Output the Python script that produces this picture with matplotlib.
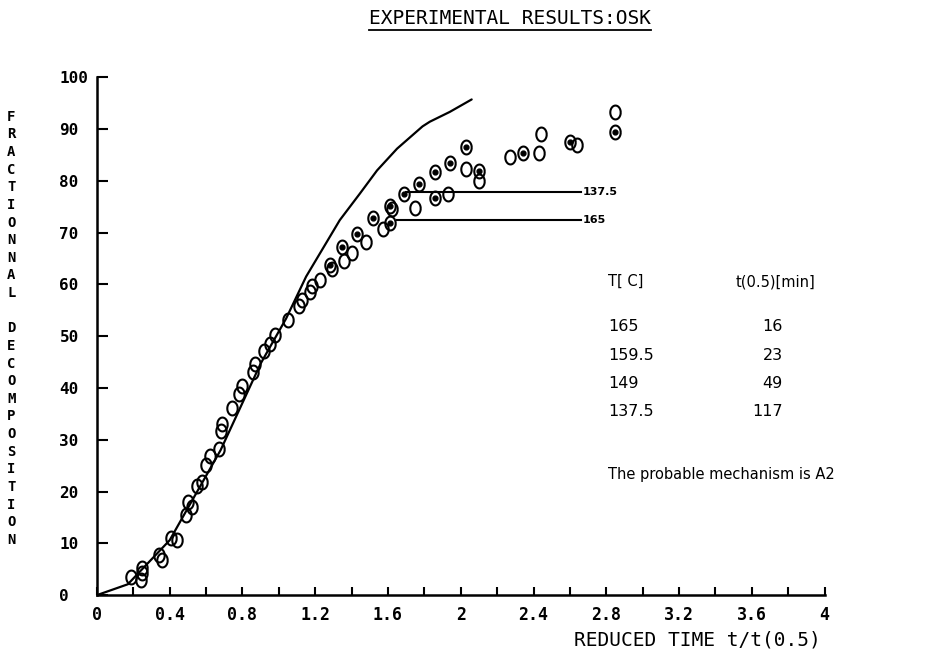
import numpy as np
import matplotlib
matplotlib.use("Agg")
import matplotlib.pyplot as plt
from matplotlib.path import Path
from matplotlib.lines import Line2D

# model curve (A2 mechanism)
curve_x = [0.0, 0.17, 0.40, 0.68, 0.90, 1.04, 1.15, 1.335, 1.445, 1.54, 1.65, 1.79, 1.83, 1.94, 2.06]
curve_y = [0.0, 2.1, 10.6, 28.0, 44.7, 53.4, 61.5, 72.4, 77.5, 82.0, 86.2, 90.5, 91.4, 93.3, 95.7]

# open "0" symbols
open_x = [0.19, 0.24, 0.25, 0.25, 0.34, 0.36, 0.41, 0.44, 0.49, 0.50, 0.52, 0.55, 0.58, 0.60,
          0.62, 0.67, 0.68, 0.69, 0.74, 0.78, 0.80, 0.86, 0.87, 0.92, 0.95, 0.98, 1.05, 1.11,
          1.13, 1.17, 1.18, 1.225, 1.295, 1.36, 1.40, 1.48, 1.57, 1.62, 1.75, 1.93, 2.03, 2.10,
          2.27, 2.43, 2.44, 2.64, 2.85]
open_y = [3.5, 3.0, 5.2, 4.2, 7.7, 6.7, 11.0, 10.6, 15.4, 18.0, 17.0, 21.0, 21.9, 25.1,
          26.8, 28.3, 31.6, 33.0, 36.2, 38.9, 40.4, 43.1, 44.6, 47.1, 48.5, 50.2, 53.2, 55.9,
          57.0, 58.6, 59.6, 60.9, 62.9, 64.5, 66.0, 68.1, 70.6, 74.5, 74.7, 77.5, 82.2, 80.0,
          84.6, 85.3, 89.1, 86.9, 93.2]

# "8" symbols (circle with inner dot)
dot_x = [1.28, 1.35, 1.43, 1.52, 1.61, 1.61, 1.69, 1.77, 1.86, 1.86, 1.94, 2.03, 2.10, 2.34, 2.60, 2.85]
dot_y = [63.7, 67.2, 69.8, 72.8, 75.2, 71.9, 77.4, 79.3, 81.7, 76.6, 83.5, 86.5, 81.9, 85.3, 87.5, 89.4]

# plateau lines
plateau_labels = ["137.5", "165"]
plateau_y = [77.8, 72.4]
plateau_x0 = [1.70, 1.65]
plateau_x1 = [2.66, 2.66]

# table
temps = ["165", "159.5", "149", "137.5"]
half_times = ["16", "23", "49", "117"]

x_ticks = [0, 0.4, 0.8, 1.2, 1.6, 2, 2.4, 2.8, 3.2, 3.6, 4]
x_tick_labels = ["0", "0.4", "0.8", "1.2", "1.6", "2", "2.4", "2.8", "3.2", "3.6", "4"]
y_ticks = [0, 10, 20, 30, 40, 50, 60, 70, 80, 90, 100]

mono = "DejaVu Sans Mono"

fig = plt.figure(figsize=(9.5, 6.54), dpi=100)
ax = fig.add_axes([0.102, 0.090, 0.766, 0.792])
ax.set_xlim(0, 4)
ax.set_ylim(0, 100)

ax.plot(curve_x, curve_y, color="black", lw=1.6, solid_capstyle="round")

t = np.linspace(0, 2 * np.pi, 41)
ell = Path(np.column_stack([0.75 * np.cos(t), np.sin(t)]))
ax.plot(open_x, open_y, ls="none", marker=ell, ms=10, mfc="none", mec="black", mew=1.5)
ax.plot(dot_x, dot_y, ls="none", marker=ell, ms=10, mfc="none", mec="black", mew=1.5)
ax.plot(dot_x, dot_y, ls="none", marker="o", ms=3.5, color="black")

for lab, y, x0, x1 in zip(plateau_labels, plateau_y, plateau_x0, plateau_x1):
    ax.plot([x0, x1], [y, y], color="black", lw=1.5)
    ax.text(x1 + 0.01, y, lab, fontsize=8, fontweight="bold", va="center", ha="left")

# table of temperatures / half times
ax.text(2.81, 60.5, "T[ C]", fontsize=10.5, va="center", ha="left")
ax.text(3.51, 60.5, "t(0.5)[min]", fontsize=10.5, va="center", ha="left")
for i, (tc, th) in enumerate(zip(temps, half_times)):
    yy = 51.8 - i * 5.45
    ax.text(2.81, yy, tc, fontsize=11.5, va="center", ha="left")
    ax.text(3.77, yy, th, fontsize=11.5, va="center", ha="right")
ax.text(2.81, 23.2, "The probable mechanism is A2", fontsize=10.5, va="center", ha="left")

for s in ["top", "right"]:
    ax.spines[s].set_visible(False)
for s in ["left", "bottom"]:
    ax.spines[s].set_linewidth(1.8)

ax.set_xticks(x_ticks)
ax.set_xticklabels(x_tick_labels, fontfamily=mono, fontweight="bold", fontsize=12)
ax.set_xticks(np.arange(0, 4.01, 0.2), minor=True)
ax.tick_params(axis="x", which="both", direction="in", length=6, width=1.5, pad=8)
ax.set_yticks(y_ticks)
ax.set_yticklabels([str(v) for v in y_ticks], fontfamily=mono, fontweight="bold", fontsize=11.5,
                   ha="left")
ax.tick_params(axis="y", direction="in", length=8, width=1.5, pad=27)

# stacked vertical axis title
fig.text(0.012, 0.498, "\n".join("FRACTIONNAL DECOMPOSITION"), fontfamily=mono,
         fontweight="bold", fontsize=10, ha="center", va="center", linespacing=1.33)

fig.text(0.734, 0.022, "REDUCED TIME t/t(0.5)", fontfamily=mono, fontsize=14,
         ha="center", va="center")

title = fig.text(0.537, 0.972, "EXPERIMENTAL RESULTS:OSK", fontfamily=mono, fontsize=14,
                 ha="center", va="center")
fig.canvas.draw()
bb = title.get_window_extent().transformed(fig.transFigure.inverted())
fig.add_artist(Line2D([bb.x0, bb.x1], [bb.y0 - 0.004, bb.y0 - 0.004], color="black", lw=1.3))

fig.savefig("out.png", dpi=100)
